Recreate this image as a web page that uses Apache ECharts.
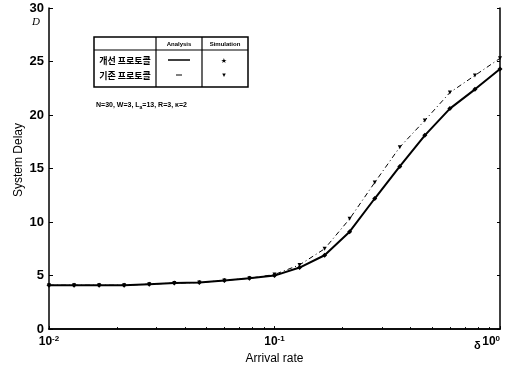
<!DOCTYPE html>
<html>
<head>
<meta charset="utf-8">
<script src="https://cdn.jsdelivr.net/npm/echarts@6/dist/echarts.min.js"></script>
<style>
  html, body { margin: 0; padding: 0; background: #fff; }
  #chart { width: 505px; height: 370px; }
</style>
</head>
<body>
<div id="chart"></div>
<script>
// Arrival rates (log-spaced sample points)
const arrivalRates = [0.01, 0.01292, 0.01668, 0.02154, 0.02783, 0.03594, 0.04642, 0.05995, 0.07743,
                      0.1, 0.1292, 0.1668, 0.2154, 0.2783, 0.3594, 0.4642, 0.5995, 0.7743, 1.0];
// System delay, improved protocol (analysis)
const delayImproved = [4.1, 4.1, 4.1, 4.1, 4.2, 4.3, 4.35, 4.55, 4.75,
                       5.0, 5.75, 6.9, 9.1, 12.2, 15.2, 18.1, 20.6, 22.4, 24.3];
// System delay, existing protocol
const delayExisting = [4.1, 4.1, 4.1, 4.1, 4.2, 4.3, 4.35, 4.55, 4.75,
                       5.1, 6.0, 7.5, 10.3, 13.7, 17.0, 19.5, 22.1, 23.7, 25.3];
const yTicks = [0, 5, 10, 15, 20, 25, 30];
const xTickExponents = { 0.01: '-2', 0.1: '-1', 1: '0' };
const legendRows = ['개선 프로토콜', '기존 프로토콜'];
const legendHeads = ['Analysis', 'Simulation'];

const chart = echarts.init(document.getElementById('chart'), null, { renderer: 'canvas' });

const G = { left: 49, top: 8, right: 5, bottom: 39 };

const toPairs = (ys) => arrivalRates.map((x, i) => [x, ys[i]]);

const option = {
  animation: false,
  backgroundColor: '#ffffff',
  grid: { left: G.left, top: G.top, right: G.right, bottom: G.bottom },
  xAxis: [{
    type: 'log', logBase: 10, min: 0.01, max: 1,
    axisLine: { show: true, lineStyle: { color: '#000', width: 1.5 } },
    axisTick: { show: true, inside: true, length: 3, lineStyle: { color: '#000' } },
    minorTick: { show: true, splitNumber: 9, length: 2, lineStyle: { color: '#000' } },
    splitLine: { show: false },
    axisLabel: {
      margin: 6,
      alignMaxLabel: 'right',
      formatter: (v) => {
        const e = xTickExponents[+v.toPrecision(3)];
        return e === undefined ? '' : '{b|10}{s|' + e + '}';
      },
      rich: {
        b: { fontFamily: 'Liberation Sans', fontSize: 12, fontWeight: 'bold', color: '#000' },
        s: { fontFamily: 'Liberation Sans', fontSize: 8, fontWeight: 'bold', color: '#000', verticalAlign: 'top', padding: [0, 0, 6, 0] }
      },
      showMinLabel: true, showMaxLabel: true
    },
    name: 'Arrival rate', nameLocation: 'middle', nameGap: 23,
    nameTextStyle: { fontFamily: 'Liberation Sans', fontSize: 12, color: '#000' }
  }, {
    type: 'log', logBase: 10, min: 0.01, max: 1, position: 'top',
    axisLine: { show: true, lineStyle: { color: '#000', width: 1.5 } },
    axisTick: { show: false }, axisLabel: { show: false }, splitLine: { show: false }
  }],
  yAxis: [{
    type: 'value', min: 0, max: 30, interval: 5,
    axisLine: { show: true, lineStyle: { color: '#000', width: 1.5 } },
    axisTick: { show: true, inside: true, length: 4, lineStyle: { color: '#000' } },
    splitLine: { show: false },
    axisLabel: {
      margin: 5,
      fontFamily: 'Liberation Sans', fontSize: 13, fontWeight: 'bold', color: '#000',
      formatter: (v) => yTicks.includes(v) ? String(v) : ''
    }
  }, {
    type: 'value', min: 0, max: 30, interval: 5, position: 'right',
    axisLine: { show: true, lineStyle: { color: '#000', width: 1.5 } },
    axisTick: { show: true, inside: true, length: 3, lineStyle: { color: '#000' } },
    axisLabel: { show: false }, splitLine: { show: false }
  }],
  series: [{
    name: legendRows[1],
    type: 'line',
    data: toPairs(delayExisting),
    symbol: 'triangle', symbolRotate: 180, symbolSize: 4,
    itemStyle: { color: '#000' },
    lineStyle: { color: '#000', width: 1, type: [5, 3, 1, 3] },
    z: 2
  }, {
    name: legendRows[0],
    type: 'line',
    data: toPairs(delayImproved),
    symbol: 'diamond', symbolSize: 5,
    itemStyle: { color: '#000' },
    lineStyle: { color: '#000', width: 2 },
    z: 3
  }],
  graphic: [
    // y-axis title
    { type: 'text', x: 19, y: 160, rotation: Math.PI / 2,
      style: { text: 'System Delay', font: '12px "Liberation Sans"', fill: '#000', align: 'center', verticalAlign: 'middle' } },
    // unit marker and stray symbol near the axes
    { type: 'text', left: 32, top: 17, style: { text: 'D', font: 'italic 11px "Liberation Serif"', fill: '#000' } },
    { type: 'text', left: 474, top: 340, style: { text: 'δ', font: 'bold 11px "Liberation Sans"', fill: '#000' } },
    // legend table
    { type: 'rect', shape: { x: 94, y: 37, width: 154, height: 50 }, style: { fill: '#fff', stroke: '#000', lineWidth: 1.5 } },
    { type: 'line', shape: { x1: 94, y1: 50, x2: 248, y2: 50 }, style: { stroke: '#000', lineWidth: 1.2 } },
    { type: 'line', shape: { x1: 156, y1: 37, x2: 156, y2: 87 }, style: { stroke: '#000', lineWidth: 1.2 } },
    { type: 'line', shape: { x1: 202, y1: 37, x2: 202, y2: 87 }, style: { stroke: '#000', lineWidth: 1.2 } },
    { type: 'text', x: 179, y: 44, style: { text: legendHeads[0], font: 'bold 6px "Liberation Sans"', fill: '#000', align: 'center', verticalAlign: 'middle' } },
    { type: 'text', x: 225, y: 44, style: { text: legendHeads[1], font: 'bold 6px "Liberation Sans"', fill: '#000', align: 'center', verticalAlign: 'middle' } },
    { type: 'text', x: 125, y: 61, style: { text: legendRows[0], font: 'bold 9px "Noto Sans CJK KR"', fill: '#000', align: 'center', verticalAlign: 'middle' } },
    { type: 'text', x: 125, y: 76, style: { text: legendRows[1], font: 'bold 9px "Noto Sans CJK KR"', fill: '#000', align: 'center', verticalAlign: 'middle' } },
    { type: 'line', shape: { x1: 168, y1: 60, x2: 190, y2: 60 }, style: { stroke: '#000', lineWidth: 1.5 } },
    { type: 'line', shape: { x1: 176, y1: 75, x2: 182, y2: 75 }, style: { stroke: '#000', lineWidth: 1 } },
    { type: 'text', x: 224, y: 61, style: { text: '★', font: '7px "DejaVu Sans"', fill: '#000', align: 'center', verticalAlign: 'middle' } },
    { type: 'text', x: 224, y: 75, style: { text: '▾', font: '7px "DejaVu Sans"', fill: '#000', align: 'center', verticalAlign: 'middle' } },
    // parameter note
    { type: 'text', left: 96, top: 102, style: {
        text: '{t|N=30, W=3, L}{s|a}{t|=13, R=3, κ=2}',
        rich: {
          t: { font: 'bold 7px "Liberation Sans"', fill: '#000' },
          s: { font: 'bold 5px "Liberation Sans"', fill: '#000', verticalAlign: 'bottom', padding: [4, 0, 0, 0] }
        }
    } }
  ]
};

chart.setOption(option);
</script>
</body>
</html>
